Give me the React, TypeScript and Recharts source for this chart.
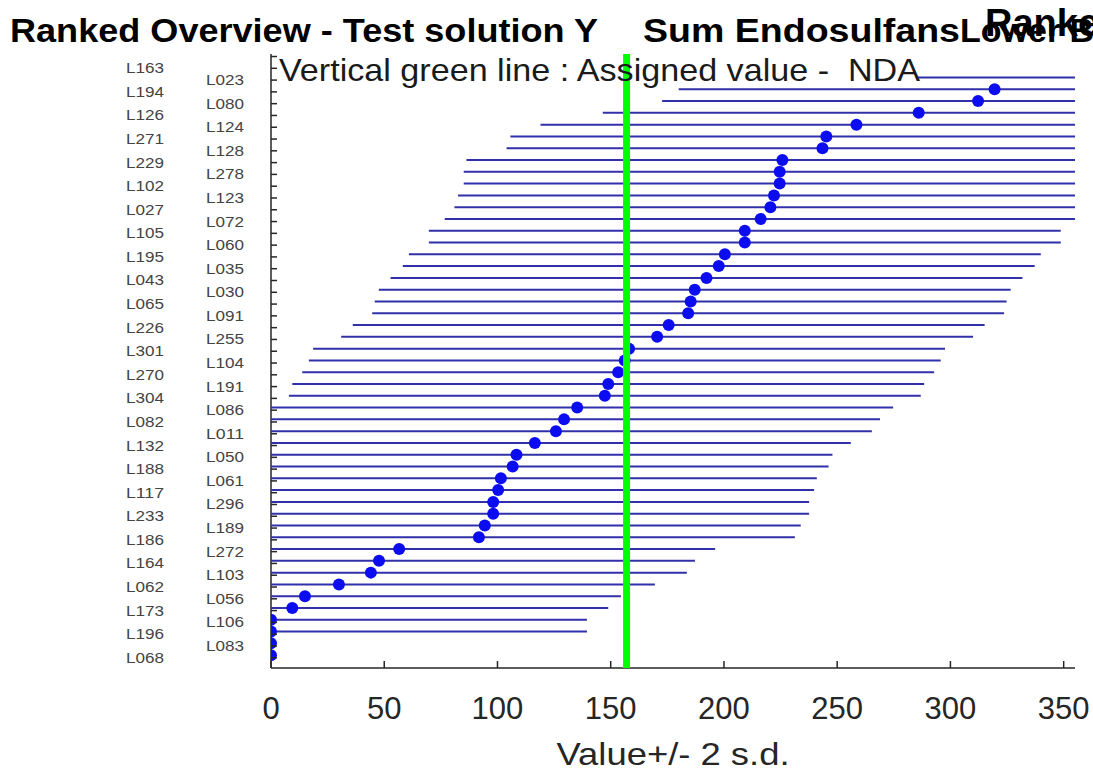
import React from "react";
import { ReferenceLine, Scatter, ScatterChart, XAxis, YAxis } from "recharts";

// labs in ranked order, top to bottom
const LABS = [
  "L163", "L023", "L194", "L080", "L126", "L124", "L271", "L128", "L229", "L278",
  "L102", "L123", "L027", "L072", "L105", "L060", "L195", "L035", "L043", "L030",
  "L065", "L091", "L226", "L255", "L301", "L104", "L270", "L191", "L304", "L086",
  "L082", "L011", "L132", "L050", "L188", "L061", "L117", "L296", "L233", "L189",
  "L186", "L272", "L164", "L103", "L062", "L056", "L173", "L106", "L196", "L083",
  "L068",
];

// reported values (null = no result drawn)
const VALUES: (number | null)[] = [
  null, 425, 319.5, 312.2, 286, 258.5, 245.2, 243.5, 225.8, 224.6,
  224.6, 222.1, 220.5, 216.2, 209.2, 209.2, 200.4, 197.7, 192.3, 187.1,
  185.3, 184.2, 175.6, 170.5, 158.1, 156.2, 153.3, 148.9, 147.4, 135.2,
  129.4, 125.8, 116.5, 108.4, 106.7, 101.5, 100.3, 98.1, 98.1, 94.4,
  91.8, 56.6, 47.7, 44.1, 30, 15, 9.4, 0, 0, 0,
  0,
];

const TWO_SD = 139.5;
const NO_INTERVAL = ["L083", "L068"];
const ASSIGNED = 157;
const X_TICKS = [0, 50, 100, 150, 200, 250, 300, 350];
const X_MAX = 355;
const RANK_TICKS = Array.from({ length: 52 }, (_, i) => i);

const W = 1093;
const H = 772;
const FONT = '"Liberation Sans", Arial, Helvetica, sans-serif';
const AXIS = "#262626";
const LINE_BLUE = "#3030aa";
const DOT_BLUE = "#0c0cf0";

const points = LABS.map((lab, i) => ({ lab, x: VALUES[i], y: i + 1 })).filter(
  (p) => p.x !== null
) as { lab: string; x: number; y: number }[];

const intervals = points
  .filter((p) => !NO_INTERVAL.includes(p.lab))
  .map((p) => ({
    lab: p.lab,
    data: [
      { x: Math.max(0, p.x - TWO_SD), y: p.y },
      { x: Math.min(X_MAX, p.x + TWO_SD), y: p.y },
    ],
  }));

function LabTick(props: any) {
  const { x, y, payload } = props;
  const k = payload.value;
  const lab = LABS[k - 1];
  return (
    <g>
      <line x1={x} x2={x + 6} y1={y} y2={y} stroke={AXIS} strokeWidth={1.5} />
      {lab && (
        <text
          x={k % 2 === 1 ? x - 145 : x - 65}
          y={y}
          dy={5}
          fontSize={14}
          fill="#444"
          fontFamily={FONT}
          textLength={38}
          lengthAdjust="spacingAndGlyphs"
        >
          {lab}
        </text>
      )}
    </g>
  );
}

function ValueTick(props: any) {
  const { x, y, payload } = props;
  return (
    <g>
      <line x1={x} x2={x} y1={y} y2={y - 7} stroke={AXIS} strokeWidth={1.5} />
      <text x={x} y={y + 51} textAnchor="middle" fontSize={31} fill={AXIS} fontFamily={FONT}>
        {payload.value}
      </text>
    </g>
  );
}

function Dot(props: any) {
  if (props.cx == null || props.cy == null) return <g />;
  return <circle cx={props.cx} cy={props.cy} r={6} fill={DOT_BLUE} />;
}

export default function App() {
  return (
    <div style={{ position: "absolute", left: 0, top: 0, width: W, height: H, overflow: "hidden", background: "#fff" }}>
      <ScatterChart width={W} height={H} margin={{ top: 54, right: 18, bottom: 0, left: 0 }}>
        <XAxis
          type="number"
          dataKey="x"
          domain={[0, X_MAX]}
          allowDataOverflow
          ticks={X_TICKS}
          interval={0}
          tickSize={0}
          tickMargin={0}
          tickLine={false}
          tick={<ValueTick />}
          height={104}
          axisLine={{ stroke: AXIS, strokeWidth: 1.5 }}
        />
        <YAxis
          yAxisId="data"
          type="number"
          dataKey="y"
          domain={[0.007, 52.09]}
          allowDataOverflow
          reversed
          hide
          width={0}
        />
        <YAxis
          yAxisId="lab"
          type="number"
          domain={[-0.213, 51.87]}
          allowDataOverflow
          reversed
          ticks={RANK_TICKS}
          interval={0}
          width={271}
          tickSize={0}
          tickMargin={0}
          tickLine={false}
          tick={<LabTick />}
          axisLine={{ stroke: AXIS, strokeWidth: 1.5 }}
        />
        {intervals.map((iv) => (
          <Scatter
            key={iv.lab}
            yAxisId="data"
            data={iv.data}
            line={{ stroke: LINE_BLUE, strokeWidth: 2 }}
            shape={() => <g />}
            isAnimationActive={false}
          />
        ))}
        <Scatter yAxisId="data" data={points} shape={<Dot />} isAnimationActive={false} />
        <ReferenceLine yAxisId="data" x={ASSIGNED} stroke="#00ff00" strokeWidth={7} zIndex={2000} />
      </ScatterChart>
      <svg
        width={W}
        height={H}
        style={{ position: "absolute", left: 0, top: 0, pointerEvents: "none" }}
        fontFamily={FONT}
      >
        <text x={10} y={42} fontSize={34} fontWeight="bold" fill="#000" textLength={588} lengthAdjust="spacingAndGlyphs">
          Ranked Overview - Test solution Y
        </text>
        <text x={643} y={42} fontSize={34} fontWeight="bold" fill="#000" textLength={317} lengthAdjust="spacingAndGlyphs">
          Sum Endosulfans
        </text>
        <text x={960} y={42} fontSize={34} fontWeight="bold" fill="#000">
          Lower Bound
        </text>
        <text x={985} y={36} fontSize={38} fontWeight="bold" fill="#000">
          Ranked
        </text>
        <text
          x={279}
          y={81}
          fontSize={32}
          fill="#1a1a1a"
          textLength={641}
          lengthAdjust="spacingAndGlyphs"
          style={{ whiteSpace: "pre" }}
        >
          {"Vertical green line : Assigned value -  NDA"}
        </text>
        <text x={673} y={765} fontSize={32} fill={AXIS} textAnchor="middle" textLength={233} lengthAdjust="spacingAndGlyphs">
          Value+/- 2 s.d.
        </text>
      </svg>
    </div>
  );
}
